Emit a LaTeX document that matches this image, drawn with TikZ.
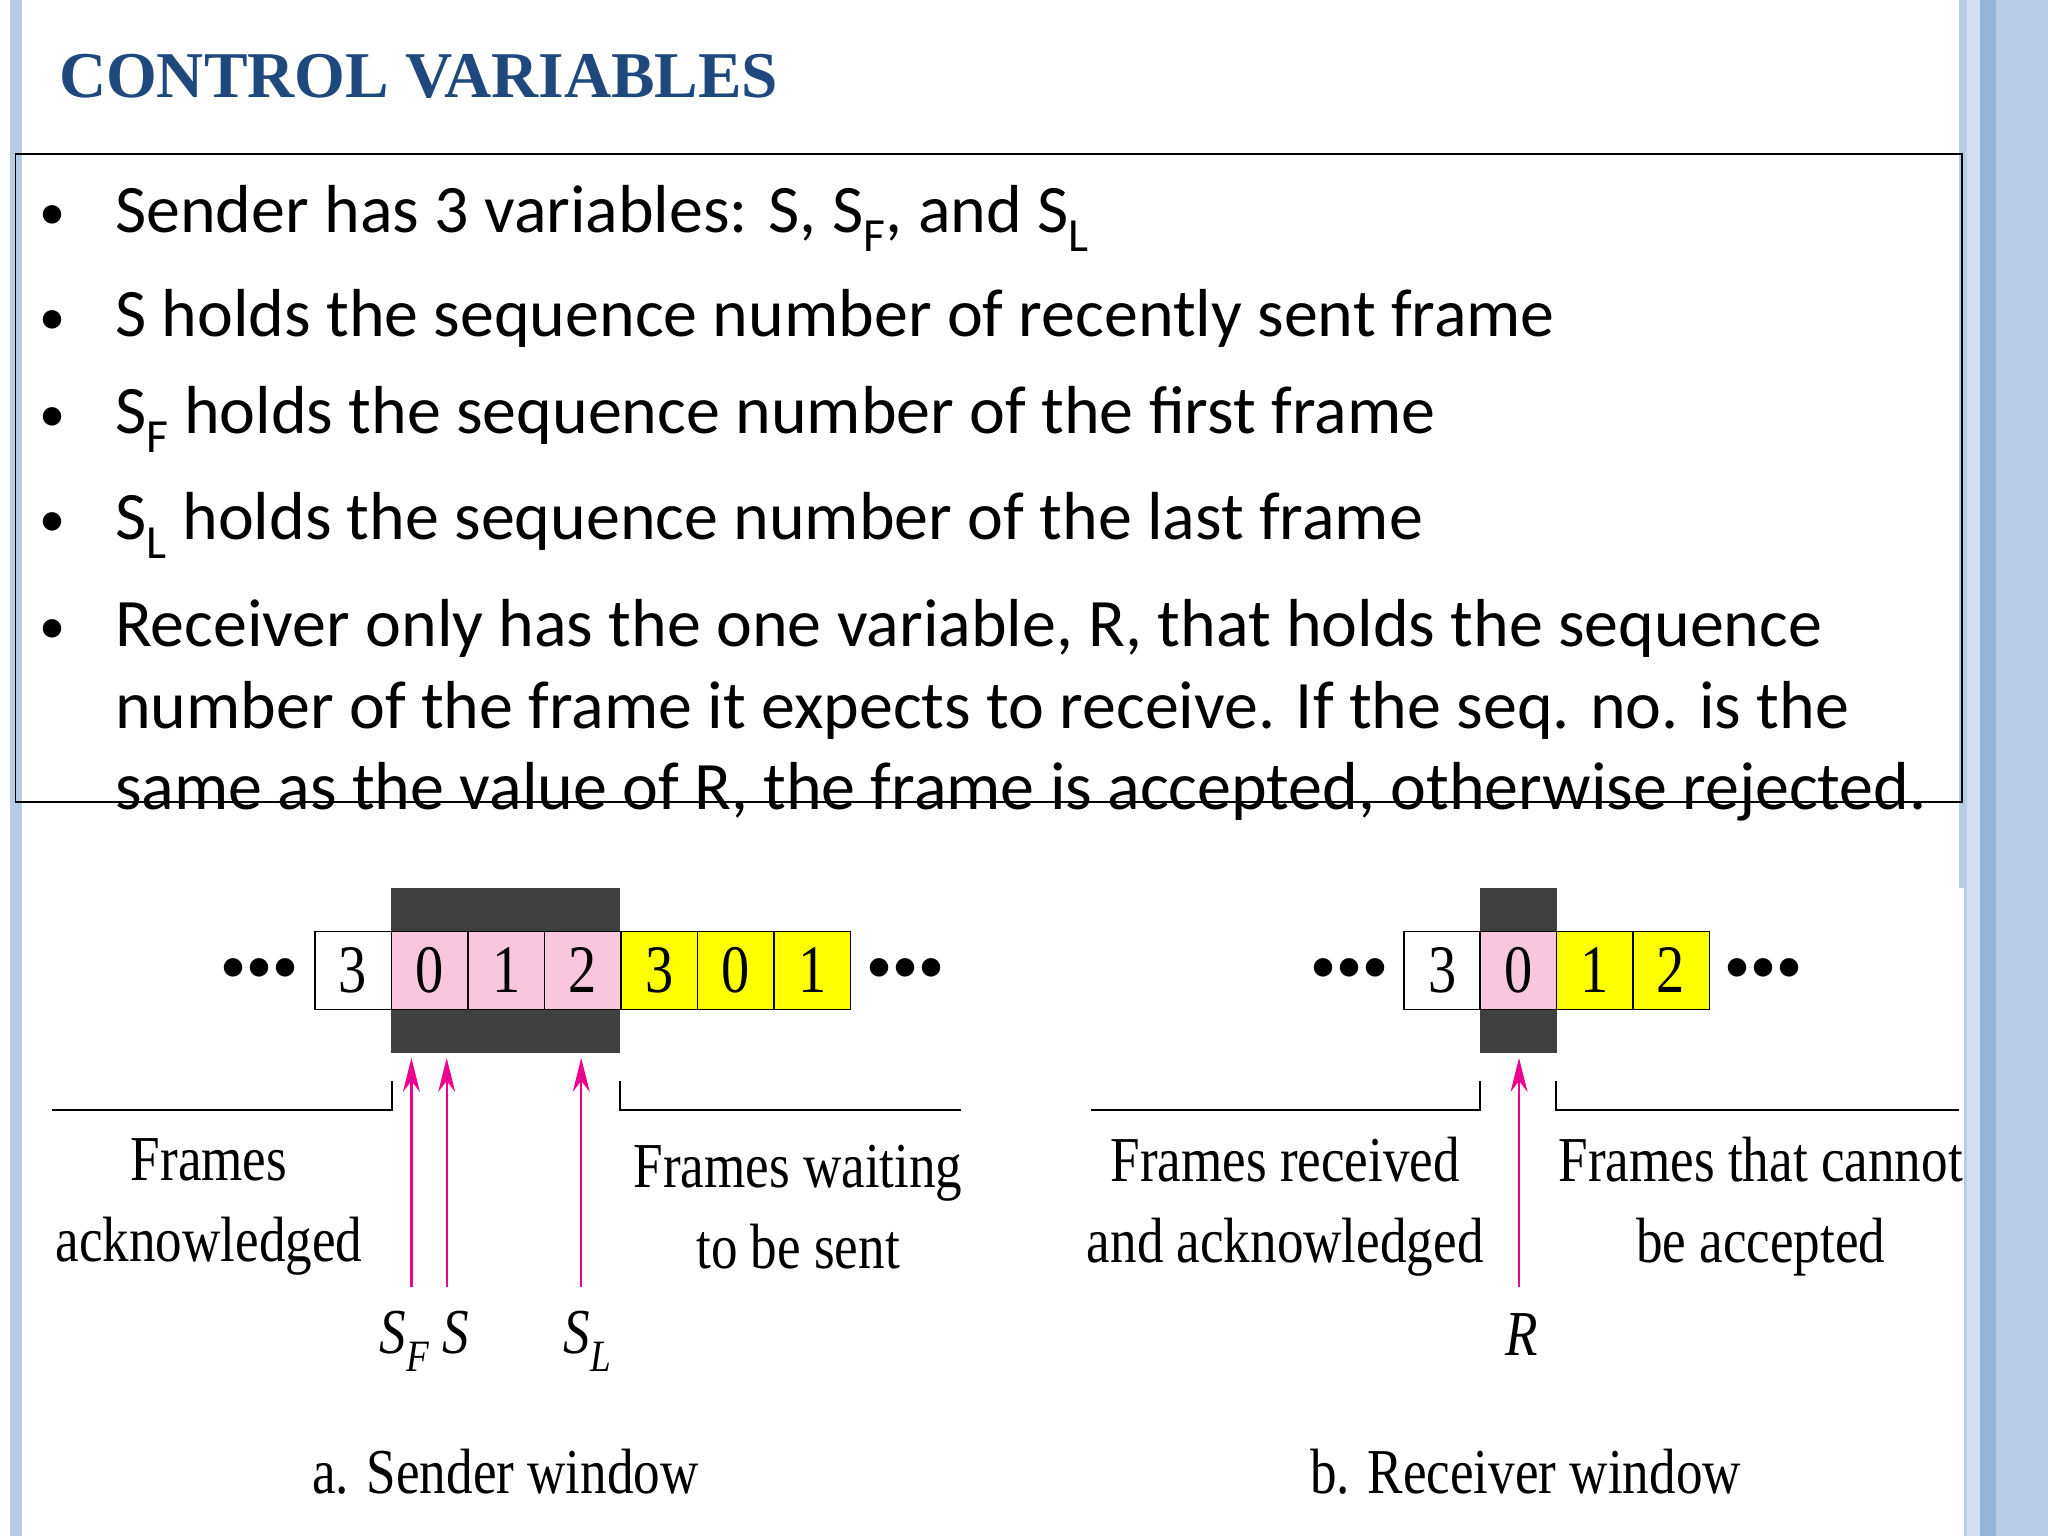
\documentclass[tikz,border=0pt]{standalone}
\usepackage{fontspec}
\setmainfont{Carlito}
\newfontfamily\ttl{Liberation Serif}
\newfontfamily\narrow[FakeStretch=0.83]{Liberation Serif}
\usetikzlibrary{arrows.meta}
\definecolor{ttlblue}{HTML}{1F497D}
\definecolor{strip}{HTML}{B8CCE4}
\definecolor{strip2}{HTML}{95B3D7}
\definecolor{pinkc}{HTML}{F9C6DD}
\definecolor{yelc}{HTML}{FFFF00}
\definecolor{darkc}{HTML}{404040}
\definecolor{mag}{HTML}{EC008C}
\tikzset{
 bul/.style={anchor=base west,font=\fontsize{52}{60}\selectfont,inner sep=0},
 cell/.style={draw=black,line width=1.2pt,minimum width=58.6pt,minimum height=60pt,inner sep=0,font=\narrow\fontsize{52}{52}\selectfont},
 lab/.style={align=center,font=\narrow\fontsize{49}{62}\selectfont,inner sep=0},
 arr/.style={draw=mag,line width=1.8pt,-{Stealth[length=26pt,width=13pt]}},
 brk/.style={line width=1.5pt},
 dots/.style={font=\fontsize{40}{40}\selectfont,inner sep=0}
}
\begin{document}
\begin{tikzpicture}[x=1pt,y=-1pt]
\useasboundingbox (0,0) rectangle (1568,1176);
\fill[white] (0,0) rectangle (1568,1176);
\fill[strip] (8,0) rectangle (17,1176);
\fill[strip] (1500,0) rectangle (1506,1176);
\fill[strip!60] (1506,0) rectangle (1516,1176);
\fill[strip2] (1516,0) rectangle (1528,1176);
\fill[strip] (1528,0) rectangle (1568,1176);
\fill[white] (1500,680) rectangle (1504,1176);
\node[anchor=base west,inner sep=0,text=ttlblue,font=\ttl\bfseries\fontsize{50}{50}\selectfont] (title) at (45,75) {CONTROL VARIABLES};
\draw[line width=1.2pt] (12,118) rectangle (1502,614);
\foreach \y/\n in {176/1,256/2,330/3,411/4,493/5}{\node[anchor=base west,inner sep=0,font=\fontsize{40}{40}\selectfont] (b\n) at (30,\y) {•};}
\node[bul] (t1) at (88,178) {Sender has 3 variables: S, S\textsubscript{F}, and S\textsubscript{L}};
\node[bul] (t2) at (88,258) {S holds the sequence number of recently sent frame};
\node[bul] (t3) at (88,332) {S\textsubscript{F} holds the sequence number of the first frame};
\node[bul] (t4) at (88,413) {S\textsubscript{L} holds the sequence number of the last frame};
\node[bul] (t5) at (88,495) {Receiver only has the one variable, R, that holds the sequence};
\node[bul] (t6) at (88,558) {number of the frame it expects to receive. If the seq. no. is the};
\node[bul] (t7) at (88,620) {same as the value of R, the frame is accepted, otherwise rejected.};
% sender
\fill[darkc] (299,680) rectangle (475,806);
\foreach \i/\d/\c in {0/3/white,1/0/pinkc,2/1/pinkc,3/2/pinkc,4/3/yelc,5/0/yelc,6/1/yelc}{
 \node[cell,fill=\c] (s\i) at (270.3+58.6*\i,743) {\d};}
\node[dots] (sdl) at (199,743) {•••};
\node[dots] (sdr) at (693,743) {•••};
\draw[brk] (40,850) -- (300,850) -- (300,828);
\draw[brk] (475,828) -- (475,850) -- (736,850);
\coordinate (a1) at (315,985); \coordinate (a1e) at (315,810);
\coordinate (a2) at (342,985); \coordinate (a2e) at (342,810);
\coordinate (a3) at (445,985); \coordinate (a3e) at (445,810);
\draw[arr] (a1) -- (a1e); \draw[arr] (a2) -- (a2e); \draw[arr] (a3) -- (a3e);
\node[lab] (fa) at (160,924) {Frames\\acknowledged};
\node[lab] (fw) at (611,924) {Frames waiting\\to be sent};
\node[lab,font=\narrow\itshape\fontsize{49}{49}\selectfont] (sfs) at (325,1027) {S\textsubscript{F} S};
\node[lab,font=\narrow\itshape\fontsize{49}{49}\selectfont] (sl) at (450,1027) {S\textsubscript{L}};
\node[lab] (sw) at (387,1127) {a. Sender window};
% receiver
\fill[darkc] (1133,680) rectangle (1192,806);
\foreach \i/\d/\c in {0/3/white,1/0/pinkc,2/1/yelc,3/2/yelc}{
 \node[cell,fill=\c] (r\i) at (1104.2+58.4*\i,743) {\d};}
\node[dots] (rdl) at (1033,743) {•••};
\node[dots] (rdr) at (1350,743) {•••};
\draw[brk] (835,850) -- (1133,850) -- (1133,828);
\draw[brk] (1191,828) -- (1191,850) -- (1500,850);
\coordinate (a4) at (1163,985); \coordinate (a4e) at (1163,810);
\draw[arr] (a4) -- (a4e);
\node[lab] (fr) at (984,924) {Frames received\\and acknowledged};
\node[lab] (fc) at (1348,924) {Frames that cannot\\be accepted};
\node[lab,font=\narrow\itshape\fontsize{49}{49}\selectfont] (rr) at (1165,1022) {R};
\node[lab] (rw) at (1168,1127) {b. Receiver window};
\end{tikzpicture}
\end{document}
